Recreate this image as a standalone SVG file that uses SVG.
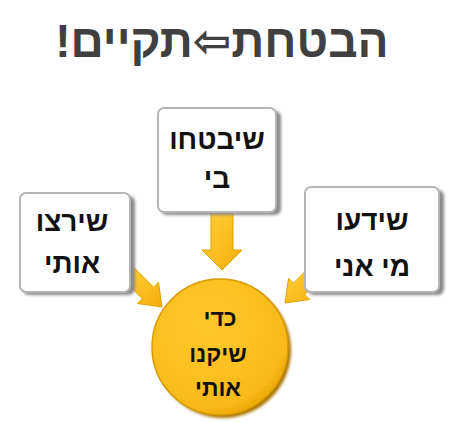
<svg xmlns="http://www.w3.org/2000/svg" width="461" height="423" viewBox="0 0 461 423">
<defs>
<linearGradient id="gold" x1="0" y1="0" x2="1" y2="1">
<stop offset="0" stop-color="#FFD23A"/>
<stop offset="1" stop-color="#F4AE0C"/>
</linearGradient>
<radialGradient id="coin" cx="0.4" cy="0.35" r="0.7">
<stop offset="0" stop-color="#FFC92A"/>
<stop offset="0.85" stop-color="#F8B91A"/>
<stop offset="1" stop-color="#E9A400"/>
</radialGradient>
<filter id="blur" x="-20%" y="-20%" width="140%" height="140%">
<feGaussianBlur stdDeviation="1.5"/>
</filter>
</defs>
<style>
.title{font-family:"Liberation Sans","DejaVu Sans",sans-serif;font-weight:bold;font-size:46px;fill:#404040}
.lbl{font-family:"Liberation Sans","DejaVu Sans",sans-serif;font-weight:bold;font-size:28px;fill:#111}
.clbl{font-family:"Liberation Sans","DejaVu Sans",sans-serif;font-weight:bold;font-size:23px;fill:#111}
.box{fill:#fff;stroke:#b5b5b5;stroke-width:2}
.shadow{fill:#8a8a8a;filter:url(#blur)}
.arrow{fill:url(#gold);stroke:#E0A000;stroke-width:1}
</style>
<rect width="461" height="423" fill="#fff"/>
<text class="title" x="222" y="57" text-anchor="middle" direction="rtl">הבטחת⇦תקיים!</text>
<g id="connectors">
<polygon class="arrow" points="211,210 233,210 233,250 242,250 222,270 202,250 211,250"/>
<polygon class="arrow" points="132.4,266 153.6,287.2 158.5,282.3 162,307 137.3,303.5 142.2,298.6 121,277.4"/>
<polygon class="arrow" points="326,273.4 304.8,294.6 309.7,299.5 285,303 288.5,278.3 293.4,283.2 314.6,262"/>
</g>
<g id="node-top">
<rect class="shadow" x="161" y="111" width="120" height="104" rx="6"/>
<rect class="box" x="158" y="108" width="118" height="104" rx="6"/>
<text class="lbl" x="217" y="149" text-anchor="middle" direction="rtl">שיבטחו</text>
<text class="lbl" x="217" y="188" text-anchor="middle" direction="rtl">בי</text>
</g>
<g id="node-left">
<rect class="shadow" x="23" y="196" width="112" height="99" rx="6"/>
<rect class="box" x="20" y="193" width="110" height="99" rx="6"/>
<text class="lbl" x="72" y="231" text-anchor="middle" direction="rtl">שירצו</text>
<text class="lbl" x="72" y="273" text-anchor="middle" direction="rtl">אותי</text>
</g>
<g id="node-right">
<rect class="shadow" x="308" y="190" width="136" height="105" rx="6"/>
<rect class="box" x="305" y="187" width="134" height="105" rx="6"/>
<text class="lbl" x="372" y="230" text-anchor="middle" direction="rtl">שידעו</text>
<text class="lbl" x="372" y="276" text-anchor="middle" direction="rtl">מי אני</text>
</g>
<g id="node-center">
<circle cx="223" cy="350" r="68" fill="#A87400" filter="url(#blur)"/>
<circle cx="220" cy="347" r="68" fill="url(#coin)" stroke="#D99A00" stroke-width="1.5"/>
<text class="clbl" x="220" y="326" text-anchor="middle" direction="rtl">כדי</text>
<text class="clbl" x="218" y="362" text-anchor="middle" direction="rtl">שיקנו</text>
<text class="clbl" x="218" y="396" text-anchor="middle" direction="rtl">אותי</text>
</g>
</svg>
